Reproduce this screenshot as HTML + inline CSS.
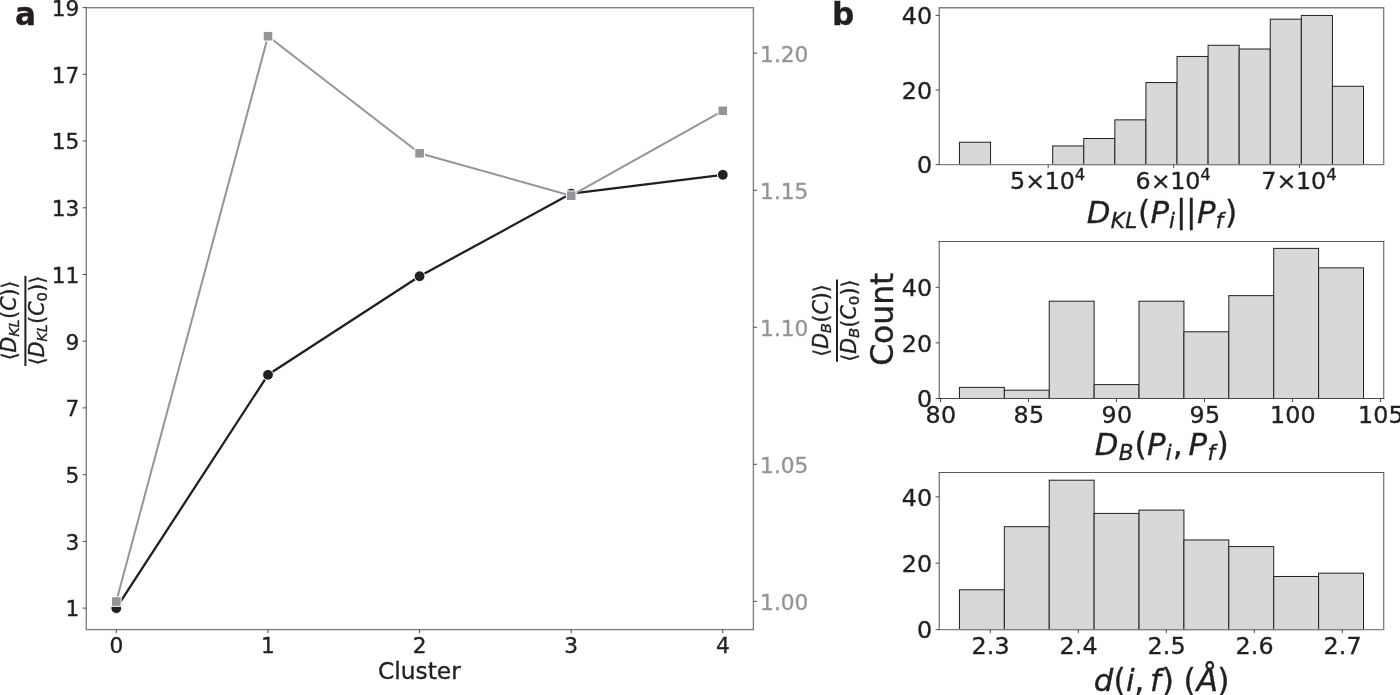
<!DOCTYPE html>
<html lang="en"><head><meta charset="utf-8"><title>Figure</title>
<style>html,body{margin:0;padding:0;background:#fff;overflow:hidden}svg{display:block}text{font-family:"DejaVu Sans","Liberation Sans",sans-serif;fill:#231f20;stroke:#231f20;stroke-width:.35px}.i{font-style:italic}.g{fill:#939598;stroke:#939598}</style></head><body>
<svg width="1400" height="695" viewBox="0 0 1400 695">
<rect x="0" y="0" width="1400" height="695" fill="#ffffff"/>
<polyline points="116.3,608.1 268.0,374.8 419.6,276.2 571.2,193.6 722.8,174.8" fill="none" stroke="#231f20" stroke-width="2.3" stroke-linejoin="round"/>
<circle cx="116.3" cy="608.1" r="5.4" fill="#231f20" stroke="#fff" stroke-width="1"/>
<circle cx="268.0" cy="374.8" r="5.4" fill="#231f20" stroke="#fff" stroke-width="1"/>
<circle cx="419.6" cy="276.2" r="5.4" fill="#231f20" stroke="#fff" stroke-width="1"/>
<circle cx="571.2" cy="193.6" r="5.4" fill="#231f20" stroke="#fff" stroke-width="1"/>
<circle cx="722.8" cy="174.8" r="5.4" fill="#231f20" stroke="#fff" stroke-width="1"/>
<polyline points="116.3,601.5 268.0,36.2 419.6,153.3 571.2,195.7 722.8,110.8" fill="none" stroke="#939598" stroke-width="2.0" stroke-linejoin="round"/>
<rect x="111.5" y="596.7" width="9.6" height="9.6" fill="#939598" stroke="#fff" stroke-width="1"/>
<rect x="263.2" y="31.4" width="9.6" height="9.6" fill="#939598" stroke="#fff" stroke-width="1"/>
<rect x="414.8" y="148.5" width="9.6" height="9.6" fill="#939598" stroke="#fff" stroke-width="1"/>
<rect x="566.4" y="190.9" width="9.6" height="9.6" fill="#939598" stroke="#fff" stroke-width="1"/>
<rect x="718.0" y="106.0" width="9.6" height="9.6" fill="#939598" stroke="#fff" stroke-width="1"/>
<rect x="86.3" y="7.7" width="667.1" height="621.9" fill="none" stroke="#808285" stroke-width="1.4"/>
<line x1="116.3" y1="629.6" x2="116.3" y2="633.2" stroke="#231f20" stroke-width="0.8"/>
<text x="116.3" y="653.0" font-size="21.7" text-anchor="middle">0</text>
<line x1="268.0" y1="629.6" x2="268.0" y2="633.2" stroke="#231f20" stroke-width="0.8"/>
<text x="268.0" y="653.0" font-size="21.7" text-anchor="middle">1</text>
<line x1="419.6" y1="629.6" x2="419.6" y2="633.2" stroke="#231f20" stroke-width="0.8"/>
<text x="419.6" y="653.0" font-size="21.7" text-anchor="middle">2</text>
<line x1="571.2" y1="629.6" x2="571.2" y2="633.2" stroke="#231f20" stroke-width="0.8"/>
<text x="571.2" y="653.0" font-size="21.7" text-anchor="middle">3</text>
<line x1="722.8" y1="629.6" x2="722.8" y2="633.2" stroke="#231f20" stroke-width="0.8"/>
<text x="722.8" y="653.0" font-size="21.7" text-anchor="middle">4</text>
<line x1="82.7" y1="608.1" x2="86.3" y2="608.1" stroke="#231f20" stroke-width="0.8"/>
<text x="79.3" y="616.4" font-size="21.7" text-anchor="end">1</text>
<line x1="82.7" y1="541.4" x2="86.3" y2="541.4" stroke="#231f20" stroke-width="0.8"/>
<text x="79.3" y="549.7" font-size="21.7" text-anchor="end">3</text>
<line x1="82.7" y1="474.7" x2="86.3" y2="474.7" stroke="#231f20" stroke-width="0.8"/>
<text x="79.3" y="483.0" font-size="21.7" text-anchor="end">5</text>
<line x1="82.7" y1="407.9" x2="86.3" y2="407.9" stroke="#231f20" stroke-width="0.8"/>
<text x="79.3" y="416.2" font-size="21.7" text-anchor="end">7</text>
<line x1="82.7" y1="341.2" x2="86.3" y2="341.2" stroke="#231f20" stroke-width="0.8"/>
<text x="79.3" y="349.5" font-size="21.7" text-anchor="end">9</text>
<line x1="82.7" y1="274.5" x2="86.3" y2="274.5" stroke="#231f20" stroke-width="0.8"/>
<text x="79.3" y="282.8" font-size="21.7" text-anchor="end">11</text>
<line x1="82.7" y1="207.8" x2="86.3" y2="207.8" stroke="#231f20" stroke-width="0.8"/>
<text x="79.3" y="216.1" font-size="21.7" text-anchor="end">13</text>
<line x1="82.7" y1="141.0" x2="86.3" y2="141.0" stroke="#231f20" stroke-width="0.8"/>
<text x="79.3" y="149.3" font-size="21.7" text-anchor="end">15</text>
<line x1="82.7" y1="74.3" x2="86.3" y2="74.3" stroke="#231f20" stroke-width="0.8"/>
<text x="79.3" y="82.6" font-size="21.7" text-anchor="end">17</text>
<line x1="82.7" y1="7.6" x2="86.3" y2="7.6" stroke="#231f20" stroke-width="0.8"/>
<text x="79.3" y="15.9" font-size="21.7" text-anchor="end">19</text>
<line x1="753.4" y1="601.4" x2="757.0" y2="601.4" stroke="#231f20" stroke-width="0.8"/>
<text class="g" x="760.1" y="609.7" font-size="21.7">1.00</text>
<line x1="753.4" y1="464.3" x2="757.0" y2="464.3" stroke="#231f20" stroke-width="0.8"/>
<text class="g" x="760.1" y="472.6" font-size="21.7">1.05</text>
<line x1="753.4" y1="327.3" x2="757.0" y2="327.3" stroke="#231f20" stroke-width="0.8"/>
<text class="g" x="760.1" y="335.6" font-size="21.7">1.10</text>
<line x1="753.4" y1="190.3" x2="757.0" y2="190.3" stroke="#231f20" stroke-width="0.8"/>
<text class="g" x="760.1" y="198.6" font-size="21.7">1.15</text>
<line x1="753.4" y1="53.2" x2="757.0" y2="53.2" stroke="#231f20" stroke-width="0.8"/>
<text class="g" x="760.1" y="61.5" font-size="21.7">1.20</text>
<text x="419.4" y="679.4" font-size="23.3" text-anchor="middle">Cluster</text>
<text x="15.0" y="25" font-size="31.2" font-weight="bold" stroke-width="0">a</text>
<text x="832.0" y="25" font-size="31.2" font-weight="bold" stroke-width="0">b</text>
<line x1="25.4" y1="275.9" x2="25.4" y2="366.0" stroke="#231f20" stroke-width="2"/>
<text transform="translate(0,365.2) rotate(-90)"><tspan x="4.86" y="15.8" font-size="20.4">⟨</tspan><tspan class="i" x="12.81" y="15.8" font-size="20.4">D</tspan><tspan class="i" x="28.38" y="19.15" font-size="14.76">K</tspan><tspan class="i" x="37.74" y="19.15" font-size="14.76">L</tspan><tspan x="46.4" y="15.8" font-size="20.4">(</tspan><tspan class="i" x="54.36" y="15.8" font-size="20.4">C</tspan><tspan x="68.6" y="15.8" font-size="20.4">)</tspan><tspan x="76.56" y="15.8" font-size="20.4">⟩</tspan></text>
<text transform="translate(0,365.2) rotate(-90)"><tspan x="0" y="43.8" font-size="20.4">⟨</tspan><tspan class="i" x="7.96" y="43.8" font-size="20.4">D</tspan><tspan class="i" x="23.52" y="47.15" font-size="14.76">K</tspan><tspan class="i" x="32.88" y="47.15" font-size="14.76">L</tspan><tspan x="41.54" y="43.8" font-size="20.4">(</tspan><tspan class="i" x="49.5" y="43.8" font-size="20.4">C</tspan><tspan x="63.6" y="47.15" font-size="14.76">0</tspan><tspan x="73.38" y="43.8" font-size="20.4">)</tspan><tspan x="81.34" y="43.8" font-size="20.4">⟩</tspan></text>
<line x1="837.0" y1="279.4" x2="837.0" y2="361.8" stroke="#231f20" stroke-width="2"/>
<text transform="translate(0,361.7) rotate(-90)"><tspan x="4.89" y="827.7" font-size="20.53">⟨</tspan><tspan class="i" x="12.9" y="827.7" font-size="20.53">D</tspan><tspan class="i" x="28.56" y="831.07" font-size="14.86">B</tspan><tspan x="39.12" y="827.7" font-size="20.53">(</tspan><tspan class="i" x="47.13" y="827.7" font-size="20.53">C</tspan><tspan x="61.47" y="827.7" font-size="20.53">)</tspan><tspan x="69.47" y="827.7" font-size="20.53">⟩</tspan></text>
<text transform="translate(0,361.7) rotate(-90)"><tspan x="0" y="855.5" font-size="20.53">⟨</tspan><tspan class="i" x="8.01" y="855.5" font-size="20.53">D</tspan><tspan class="i" x="23.67" y="858.87" font-size="14.86">B</tspan><tspan x="34.24" y="855.5" font-size="20.53">(</tspan><tspan class="i" x="42.24" y="855.5" font-size="20.53">C</tspan><tspan x="56.43" y="858.87" font-size="14.86">0</tspan><tspan x="66.28" y="855.5" font-size="20.53">)</tspan><tspan x="74.29" y="855.5" font-size="20.53">⟩</tspan></text>
<text transform="translate(893.1,319.2) rotate(-90)" font-size="31.4" text-anchor="middle">Count</text>
<rect x="959.45" y="142.23" width="31.08" height="22.37" fill="#d7d8da" stroke="#231f20" stroke-width="1"/>
<rect x="1052.69" y="145.95" width="31.08" height="18.64" fill="#d7d8da" stroke="#231f20" stroke-width="1"/>
<rect x="1083.77" y="138.50" width="31.08" height="26.10" fill="#d7d8da" stroke="#231f20" stroke-width="1"/>
<rect x="1114.85" y="119.85" width="31.08" height="44.75" fill="#d7d8da" stroke="#231f20" stroke-width="1"/>
<rect x="1145.93" y="82.56" width="31.08" height="82.04" fill="#d7d8da" stroke="#231f20" stroke-width="1"/>
<rect x="1177.02" y="56.46" width="31.08" height="108.14" fill="#d7d8da" stroke="#231f20" stroke-width="1"/>
<rect x="1208.10" y="45.27" width="31.08" height="119.33" fill="#d7d8da" stroke="#231f20" stroke-width="1"/>
<rect x="1239.18" y="49.00" width="31.08" height="115.60" fill="#d7d8da" stroke="#231f20" stroke-width="1"/>
<rect x="1270.26" y="19.17" width="31.08" height="145.43" fill="#d7d8da" stroke="#231f20" stroke-width="1"/>
<rect x="1301.34" y="15.44" width="31.08" height="149.16" fill="#d7d8da" stroke="#231f20" stroke-width="1"/>
<rect x="1332.42" y="86.29" width="31.08" height="78.31" fill="#d7d8da" stroke="#231f20" stroke-width="1"/>
<line x1="939.25" y1="7.75" x2="939.25" y2="164.60" stroke="#808285" stroke-width="1.4"/>
<line x1="1383.65" y1="7.75" x2="1383.65" y2="164.60" stroke="#808285" stroke-width="1.4"/>
<line x1="938.55" y1="7.75" x2="1384.35" y2="7.75" stroke="#808285" stroke-width="1.4"/>
<line x1="938.55" y1="164.60" x2="1384.35" y2="164.60" stroke="#808285" stroke-width="1.4"/>
<line x1="935.6" y1="164.6" x2="939.2" y2="164.6" stroke="#231f20" stroke-width="0.8"/>
<text x="932.4" y="173.4" font-size="23.8" text-anchor="end" letter-spacing="0.2">0</text>
<line x1="935.6" y1="90.0" x2="939.2" y2="90.0" stroke="#231f20" stroke-width="0.8"/>
<text x="932.4" y="98.8" font-size="23.8" text-anchor="end" letter-spacing="0.2">20</text>
<line x1="935.6" y1="15.4" x2="939.2" y2="15.4" stroke="#231f20" stroke-width="0.8"/>
<text x="932.4" y="24.2" font-size="23.8" text-anchor="end" letter-spacing="0.2">40</text>
<line x1="1048.2" y1="164.6" x2="1048.2" y2="168.2" stroke="#231f20" stroke-width="0.8"/>
<line x1="1173.7" y1="164.6" x2="1173.7" y2="168.2" stroke="#231f20" stroke-width="0.8"/>
<line x1="1299.5" y1="164.6" x2="1299.5" y2="168.2" stroke="#231f20" stroke-width="0.8"/>
<text><tspan x="1009.9" y="189.1" font-size="23.8">5</tspan><tspan x="1025.28" y="189.1" font-size="23.8">×</tspan><tspan x="1044.79" y="189.1" font-size="23.8">1</tspan><tspan x="1059.68" y="189.1" font-size="23.8">0</tspan><tspan x="1074.84" y="180" font-size="16.5">4</tspan></text>
<text><tspan x="1135.4" y="189.1" font-size="23.8">6</tspan><tspan x="1150.78" y="189.1" font-size="23.8">×</tspan><tspan x="1170.29" y="189.1" font-size="23.8">1</tspan><tspan x="1185.18" y="189.1" font-size="23.8">0</tspan><tspan x="1200.34" y="180" font-size="16.5">4</tspan></text>
<text><tspan x="1261.2" y="189.1" font-size="23.8">7</tspan><tspan x="1276.58" y="189.1" font-size="23.8">×</tspan><tspan x="1296.09" y="189.1" font-size="23.8">1</tspan><tspan x="1310.98" y="189.1" font-size="23.8">0</tspan><tspan x="1326.14" y="180" font-size="16.5">4</tspan></text>
<text><tspan class="i" x="1086.72" y="222.6" font-size="30.8">D</tspan><tspan class="i" x="1110.67" y="227.5" font-size="21.5">K</tspan><tspan class="i" x="1125.27" y="227.5" font-size="21.5">L</tspan><tspan x="1138.05" y="222.6" font-size="31.4">(</tspan><tspan class="i" x="1150.42" y="222.6" font-size="30.8">P</tspan><tspan class="i" x="1169.09" y="227.5" font-size="21.5">i</tspan><tspan x="1175.96" y="222.1" font-size="31.4">|</tspan><tspan x="1186.06" y="222.1" font-size="31.4">|</tspan><tspan class="i" x="1197.02" y="222.6" font-size="30.8">P</tspan><tspan class="i" x="1215.79" y="227.5" font-size="21.5">f</tspan><tspan x="1225.04" y="222.6" font-size="31.4">)</tspan></text>
<rect x="959.45" y="387.38" width="44.89" height="11.12" fill="#d7d8da" stroke="#231f20" stroke-width="1"/>
<rect x="1004.34" y="390.16" width="44.89" height="8.34" fill="#d7d8da" stroke="#231f20" stroke-width="1"/>
<rect x="1049.24" y="301.20" width="44.89" height="97.30" fill="#d7d8da" stroke="#231f20" stroke-width="1"/>
<rect x="1094.13" y="384.60" width="44.89" height="13.90" fill="#d7d8da" stroke="#231f20" stroke-width="1"/>
<rect x="1139.03" y="301.20" width="44.89" height="97.30" fill="#d7d8da" stroke="#231f20" stroke-width="1"/>
<rect x="1183.92" y="331.78" width="44.89" height="66.72" fill="#d7d8da" stroke="#231f20" stroke-width="1"/>
<rect x="1228.82" y="295.64" width="44.89" height="102.86" fill="#d7d8da" stroke="#231f20" stroke-width="1"/>
<rect x="1273.71" y="248.38" width="44.89" height="150.12" fill="#d7d8da" stroke="#231f20" stroke-width="1"/>
<rect x="1318.61" y="267.84" width="44.89" height="130.66" fill="#d7d8da" stroke="#231f20" stroke-width="1"/>
<line x1="939.25" y1="241.50" x2="939.25" y2="398.50" stroke="#808285" stroke-width="1.4"/>
<line x1="1383.65" y1="241.50" x2="1383.65" y2="398.50" stroke="#808285" stroke-width="1.4"/>
<line x1="938.55" y1="241.50" x2="1384.35" y2="241.50" stroke="#58595b" stroke-width="1.0"/>
<line x1="938.55" y1="398.50" x2="1384.35" y2="398.50" stroke="#4a4a4c" stroke-width="1.0"/>
<line x1="935.6" y1="398.5" x2="939.2" y2="398.5" stroke="#231f20" stroke-width="0.8"/>
<text x="932.4" y="407.3" font-size="23.8" text-anchor="end" letter-spacing="0.2">0</text>
<line x1="935.6" y1="342.9" x2="939.2" y2="342.9" stroke="#231f20" stroke-width="0.8"/>
<text x="932.4" y="351.7" font-size="23.8" text-anchor="end" letter-spacing="0.2">20</text>
<line x1="935.6" y1="287.3" x2="939.2" y2="287.3" stroke="#231f20" stroke-width="0.8"/>
<text x="932.4" y="296.1" font-size="23.8" text-anchor="end" letter-spacing="0.2">40</text>
<line x1="940.5" y1="398.5" x2="940.5" y2="402.1" stroke="#231f20" stroke-width="0.8"/>
<text x="940.9" y="423.2" font-size="23.8" text-anchor="middle" letter-spacing="0.2">80</text>
<line x1="1028.5" y1="398.5" x2="1028.5" y2="402.1" stroke="#231f20" stroke-width="0.8"/>
<text x="1028.9" y="423.2" font-size="23.8" text-anchor="middle" letter-spacing="0.2">85</text>
<line x1="1116.5" y1="398.5" x2="1116.5" y2="402.1" stroke="#231f20" stroke-width="0.8"/>
<text x="1116.9" y="423.2" font-size="23.8" text-anchor="middle" letter-spacing="0.2">90</text>
<line x1="1204.5" y1="398.5" x2="1204.5" y2="402.1" stroke="#231f20" stroke-width="0.8"/>
<text x="1204.9" y="423.2" font-size="23.8" text-anchor="middle" letter-spacing="0.2">95</text>
<line x1="1292.5" y1="398.5" x2="1292.5" y2="402.1" stroke="#231f20" stroke-width="0.8"/>
<text x="1292.9" y="423.2" font-size="23.8" text-anchor="middle" letter-spacing="0.2">100</text>
<line x1="1380.5" y1="398.5" x2="1380.5" y2="402.1" stroke="#231f20" stroke-width="0.8"/>
<text x="1380.9" y="423.2" font-size="23.8" text-anchor="middle" letter-spacing="0.2">105</text>
<text><tspan class="i" x="1094.72" y="454.8" font-size="30.8">D</tspan><tspan class="i" x="1118.77" y="459.7" font-size="21.5">B</tspan><tspan x="1134.55" y="454.8" font-size="31.4">(</tspan><tspan class="i" x="1147.02" y="454.8" font-size="30.8">P</tspan><tspan class="i" x="1165.69" y="459.7" font-size="21.5">i</tspan><tspan x="1172.63" y="454.8" font-size="31.4">,</tspan><tspan class="i" x="1188.42" y="454.8" font-size="30.8">P</tspan><tspan class="i" x="1207.49" y="459.7" font-size="21.5">f</tspan><tspan x="1216.54" y="454.8" font-size="31.4">)</tspan></text>
<rect x="959.45" y="589.76" width="44.89" height="39.84" fill="#d7d8da" stroke="#231f20" stroke-width="1"/>
<rect x="1004.34" y="526.68" width="44.89" height="102.92" fill="#d7d8da" stroke="#231f20" stroke-width="1"/>
<rect x="1049.24" y="480.20" width="44.89" height="149.40" fill="#d7d8da" stroke="#231f20" stroke-width="1"/>
<rect x="1094.13" y="513.40" width="44.89" height="116.20" fill="#d7d8da" stroke="#231f20" stroke-width="1"/>
<rect x="1139.03" y="510.08" width="44.89" height="119.52" fill="#d7d8da" stroke="#231f20" stroke-width="1"/>
<rect x="1183.92" y="539.96" width="44.89" height="89.64" fill="#d7d8da" stroke="#231f20" stroke-width="1"/>
<rect x="1228.82" y="546.60" width="44.89" height="83.00" fill="#d7d8da" stroke="#231f20" stroke-width="1"/>
<rect x="1273.71" y="576.48" width="44.89" height="53.12" fill="#d7d8da" stroke="#231f20" stroke-width="1"/>
<rect x="1318.61" y="573.16" width="44.89" height="56.44" fill="#d7d8da" stroke="#231f20" stroke-width="1"/>
<line x1="939.25" y1="472.50" x2="939.25" y2="629.60" stroke="#808285" stroke-width="1.4"/>
<line x1="1383.65" y1="472.50" x2="1383.65" y2="629.60" stroke="#808285" stroke-width="1.4"/>
<line x1="938.55" y1="472.50" x2="1384.35" y2="472.50" stroke="#58595b" stroke-width="1.0"/>
<line x1="938.55" y1="629.60" x2="1384.35" y2="629.60" stroke="#808285" stroke-width="1.4"/>
<line x1="935.6" y1="629.6" x2="939.2" y2="629.6" stroke="#231f20" stroke-width="0.8"/>
<text x="932.4" y="638.4" font-size="23.8" text-anchor="end" letter-spacing="0.2">0</text>
<line x1="935.6" y1="563.2" x2="939.2" y2="563.2" stroke="#231f20" stroke-width="0.8"/>
<text x="932.4" y="572.0" font-size="23.8" text-anchor="end" letter-spacing="0.2">20</text>
<line x1="935.6" y1="496.8" x2="939.2" y2="496.8" stroke="#231f20" stroke-width="0.8"/>
<text x="932.4" y="505.6" font-size="23.8" text-anchor="end" letter-spacing="0.2">40</text>
<line x1="990.3" y1="629.6" x2="990.3" y2="633.2" stroke="#231f20" stroke-width="0.8"/>
<text x="990.7" y="654.3" font-size="23.8" text-anchor="middle" letter-spacing="0.2">2.3</text>
<line x1="1078.3" y1="629.6" x2="1078.3" y2="633.2" stroke="#231f20" stroke-width="0.8"/>
<text x="1078.7" y="654.3" font-size="23.8" text-anchor="middle" letter-spacing="0.2">2.4</text>
<line x1="1166.3" y1="629.6" x2="1166.3" y2="633.2" stroke="#231f20" stroke-width="0.8"/>
<text x="1166.7" y="654.3" font-size="23.8" text-anchor="middle" letter-spacing="0.2">2.5</text>
<line x1="1254.3" y1="629.6" x2="1254.3" y2="633.2" stroke="#231f20" stroke-width="0.8"/>
<text x="1254.7" y="654.3" font-size="23.8" text-anchor="middle" letter-spacing="0.2">2.6</text>
<line x1="1342.3" y1="629.6" x2="1342.3" y2="633.2" stroke="#231f20" stroke-width="0.8"/>
<text x="1342.7" y="654.3" font-size="23.8" text-anchor="middle" letter-spacing="0.2">2.7</text>
<text><tspan class="i" x="1093.64" y="690.8" font-size="30.8">d</tspan><tspan x="1113.45" y="690.8" font-size="31.4">(</tspan><tspan class="i" x="1125.97" y="690.8" font-size="30.8">i</tspan><tspan x="1134.33" y="690.8" font-size="31.4">,</tspan><tspan class="i" x="1150.06" y="690.8" font-size="30.8">f</tspan><tspan x="1161.64" y="690.8" font-size="31.4">)</tspan><tspan x="1183.55" y="690.8" font-size="31.4">(</tspan><tspan class="i" x="1196.42" y="690.8" font-size="31.4">Å</tspan><tspan x="1217.34" y="690.8" font-size="31.4">)</tspan></text>
</svg></body></html>
